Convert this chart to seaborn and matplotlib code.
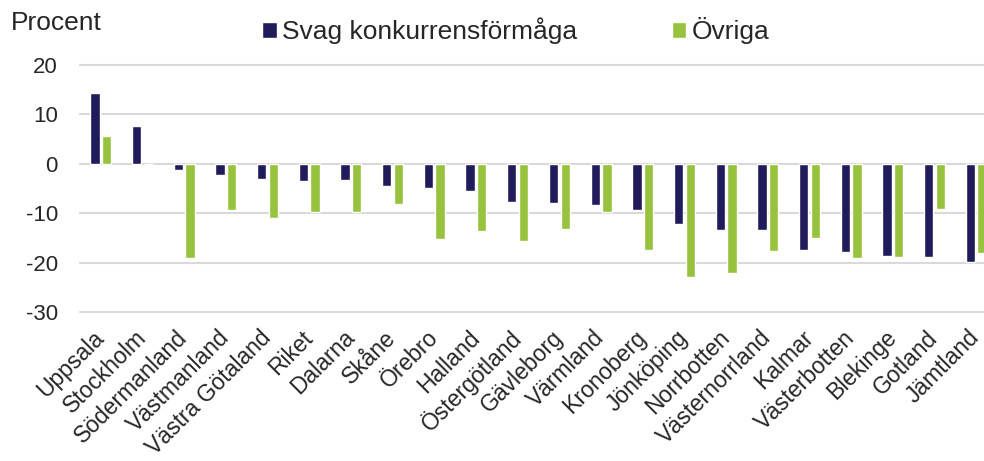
import pandas as pd
import seaborn as sns
import matplotlib.pyplot as plt

regions = ["Uppsala", "Stockholm", "Södermanland", "Västmanland", "Västra Götaland",
           "Riket", "Dalarna", "Skåne", "Örebro", "Halland", "Östergötland",
           "Gävleborg", "Värmland", "Kronoberg", "Jönköping", "Norrbotten",
           "Västernorrland", "Kalmar", "Västerbotten", "Blekinge", "Gotland", "Jämtland"]
svag = [14.3, 7.6, -1.3, -2.2, -3.0, -3.4, -3.3, -4.5, -4.9, -5.5, -7.8,
        -7.9, -8.3, -9.3, -12.2, -13.4, -13.5, -17.5, -17.9, -18.6, -18.8, -19.8]
ovriga = [5.7, 0.0, -19.0, -9.4, -11.0, -9.7, -9.8, -8.1, -15.2, -13.6, -15.6,
          -13.1, -9.7, -17.4, -22.9, -22.2, -17.7, -15.1, -19.1, -18.8, -9.1, -18.1]

series = ["Svag konkurrensförmåga", "Övriga"]
colors = ["#201b5b", "#96c23e"]

df = pd.DataFrame({
    "region": regions * 2,
    "serie": [series[0]] * len(regions) + [series[1]] * len(regions),
    "value": svag + ovriga,
})

sns.set_style("white")
plt.rcParams["font.family"] = ["Liberation Sans", "DejaVu Sans"]
plt.rcParams["axes.unicode_minus"] = False

fig = plt.figure(figsize=(9.84, 4.61), dpi=100)
ax = fig.add_axes([80 / 984, 1 - 312 / 461, 1 - 80 / 984, (312 - 65) / 461])

sns.barplot(data=df, x="region", y="value", hue="serie", palette=colors,
            width=0.56, gap=0.2, ax=ax, saturation=1, legend=True)

ax.set_ylim(-30, 20)
ax.set_yticks([20, 10, 0, -10, -20, -30])
# plot area runs a bit past the right edge of the picture
ax.set_xlim(-0.5, len(regions) - 0.5 - (997 - 984) / 41.7)
ax.grid(axis="y", color="#d9d9d9", linewidth=1.5)
ax.set_axisbelow(True)
for line in ax.get_ygridlines():
    line.set_clip_on(False)
sns.despine(ax=ax, left=True, bottom=True, top=True, right=True)

ax.set_xlabel("")
ax.set_ylabel("")
ax.tick_params(axis="y", length=0, pad=16, labelsize=16)
ax.tick_params(axis="x", length=0, pad=16, labelsize=16.5)
plt.setp(ax.get_xticklabels(), rotation=45, ha="right", va="center",
         rotation_mode="anchor")

handles, labels = ax.get_legend_handles_labels()
ax.get_legend().remove()
fig.legend(handles, labels, loc="center left", bbox_to_anchor=(262 / 984, 1 - 31 / 461),
           ncol=2, frameon=False, fontsize=19, handlelength=0.55, handleheight=0.55,
           handletextpad=0.2, columnspacing=3.6, borderpad=0, borderaxespad=0)

fig.text(11 / 984, 1 - 23 / 461, "Procent", fontsize=19, va="center", ha="left")

fig.savefig("out.png", dpi=100)
